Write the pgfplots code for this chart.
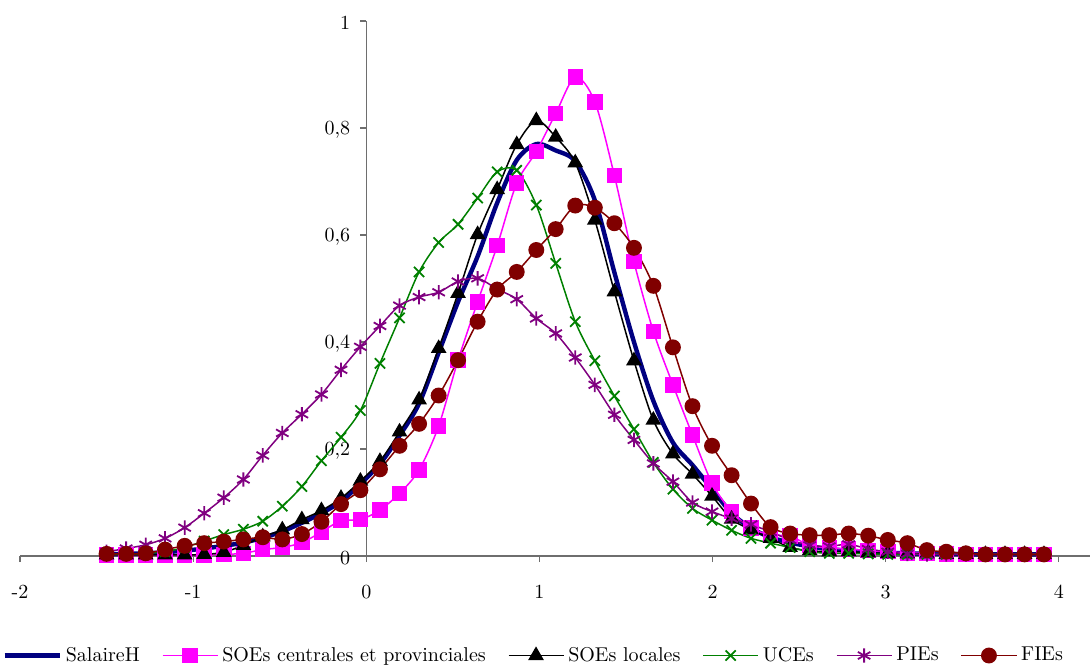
\documentclass[border=0pt]{standalone}
\usepackage{pgfplots}
\pgfplotsset{compat=1.18}
\usepackage{pgfplotstable}
\definecolor{navyc}{RGB}{0,0,128}
\definecolor{pinkc}{RGB}{255,0,255}
\definecolor{greenc}{RGB}{0,128,0}
\definecolor{purplec}{RGB}{128,0,128}
\definecolor{redc}{RGB}{128,0,0}
\definecolor{axisc}{RGB}{110,110,110}

\pgfplotstableread{
x sal soec soel uce pie fie
-1.500 0.003 0.002 0.002 0.003 0.008 0.004
-1.387 0.004 0.002 0.002 0.003 0.014 0.004
-1.274 0.005 0.002 0.002 0.005 0.021 0.005
-1.162 0.007 0.002 0.002 0.008 0.033 0.012
-1.049 0.010 0.002 0.002 0.016 0.053 0.019
-0.936 0.014 0.002 0.003 0.028 0.080 0.024
-0.823 0.019 0.003 0.007 0.040 0.109 0.027
-0.710 0.025 0.005 0.020 0.050 0.143 0.031
-0.598 0.034 0.012 0.036 0.065 0.188 0.035
-0.485 0.046 0.016 0.049 0.093 0.230 0.031
-0.372 0.062 0.025 0.068 0.130 0.265 0.041
-0.259 0.080 0.045 0.085 0.178 0.302 0.064
-0.146 0.102 0.066 0.108 0.222 0.348 0.097
-0.034 0.135 0.068 0.140 0.272 0.391 0.123
0.079 0.172 0.086 0.177 0.360 0.430 0.162
0.192 0.225 0.117 0.232 0.445 0.468 0.206
0.305 0.285 0.161 0.292 0.531 0.484 0.247
0.418 0.380 0.243 0.388 0.586 0.493 0.300
0.530 0.475 0.366 0.491 0.620 0.513 0.366
0.643 0.560 0.475 0.601 0.669 0.519 0.438
0.756 0.660 0.580 0.685 0.718 0.499 0.498
0.869 0.740 0.697 0.769 0.721 0.480 0.531
0.982 0.770 0.756 0.814 0.656 0.444 0.572
1.094 0.758 0.827 0.783 0.547 0.416 0.611
1.207 0.738 0.895 0.735 0.438 0.371 0.655
1.320 0.665 0.849 0.628 0.365 0.320 0.651
1.433 0.530 0.711 0.494 0.299 0.264 0.622
1.546 0.400 0.550 0.365 0.237 0.217 0.576
1.658 0.290 0.420 0.254 0.175 0.173 0.505
1.771 0.212 0.320 0.191 0.125 0.139 0.390
1.884 0.170 0.226 0.153 0.089 0.100 0.280
1.997 0.125 0.136 0.112 0.067 0.083 0.206
2.110 0.080 0.083 0.069 0.048 0.070 0.151
2.222 0.052 0.052 0.049 0.033 0.059 0.098
2.335 0.035 0.040 0.033 0.024 0.045 0.054
2.448 0.025 0.037 0.016 0.016 0.030 0.042
2.561 0.018 0.020 0.010 0.008 0.020 0.039
2.674 0.013 0.015 0.008 0.005 0.018 0.039
2.786 0.010 0.013 0.008 0.005 0.022 0.042
2.899 0.008 0.010 0.006 0.004 0.013 0.038
3.012 0.006 0.008 0.005 0.003 0.008 0.030
3.125 0.005 0.006 0.004 0.003 0.004 0.024
3.238 0.004 0.005 0.004 0.003 0.003 0.011
3.350 0.004 0.004 0.003 0.003 0.003 0.008
3.463 0.003 0.003 0.003 0.003 0.003 0.005
3.576 0.003 0.003 0.003 0.003 0.003 0.003
3.689 0.003 0.003 0.003 0.003 0.003 0.003
3.802 0.003 0.003 0.003 0.003 0.003 0.003
3.914 0.003 0.003 0.003 0.003 0.003 0.003
}\datatable

\begin{document}
\begin{tikzpicture}
\useasboundingbox (0,0) rectangle (545pt,332pt);
\clip (0,0) rectangle (545pt,332pt);
\begin{axis}[
  at={(10pt,54pt)}, anchor=south west,
  scale only axis, width=535pt, height=267.5pt,
  xmin=-2, xmax=4.18, ymin=0, ymax=1,
  axis lines=middle,
  axis line style={-, axisc, line width=0.6pt},
  clip=false,
  xtick={-2,-1,0,1,2,3,4}, xticklabels={-2,-1,0,1,2,3,4},
  ytick={0,0.2,0.4,0.6,0.8,1}, yticklabels={0,{0,2},{0,4},{0,6},{0,8},1},
  tick align=outside, major tick length=3pt,
  tick style={axisc, line width=0.6pt},
  hide obscured x ticks=false, hide obscured y ticks=false,
  xticklabel style={yshift=-8pt},
  yticklabel style={xshift=-1.5pt, yshift=-1pt},
  legend columns=6,
  legend style={draw=none, fill=none, at={(-0.0168,-0.186)}, anchor=west,
    inner sep=0pt,
    /tikz/every even column/.append style={column sep=9pt}},
  legend image code/.code={\draw[mark repeat=2,mark phase=2] plot coordinates {(0pt,0pt)(13.75pt,0pt)(27.5pt,0pt)};},
]
\addplot[navyc, line width=2.2pt, smooth, no markers] table[x=x,y=sal]{\datatable};
\addlegendentry{SalaireH}
\addplot[pinkc, line width=0.75pt, smooth, mark=square*, mark size=3.5pt, mark options={solid, fill=pinkc}] table[x=x,y=soec]{\datatable};
\addlegendentry{SOEs centrales et provinciales}
\addplot[black, line width=0.75pt, smooth, mark=triangle*, mark size=3.8pt, mark options={solid, fill=black}] table[x=x,y=soel]{\datatable};
\addlegendentry{SOEs locales}
\addplot[greenc, line width=0.75pt, smooth, mark=x, mark size=3.6pt, mark options={solid, line width=0.9pt}] table[x=x,y=uce]{\datatable};
\addlegendentry{UCEs}
\addplot[purplec, line width=0.75pt, smooth, mark=asterisk, mark size=3.6pt, mark options={solid, line width=0.9pt}] table[x=x,y=pie]{\datatable};
\addlegendentry{PIEs}
\addplot[redc, line width=0.75pt, smooth, mark=*, mark size=3.6pt, mark options={solid, fill=redc}] table[x=x,y=fie]{\datatable};
\addlegendentry{FIEs}
\end{axis}
\end{tikzpicture}
\end{document}
